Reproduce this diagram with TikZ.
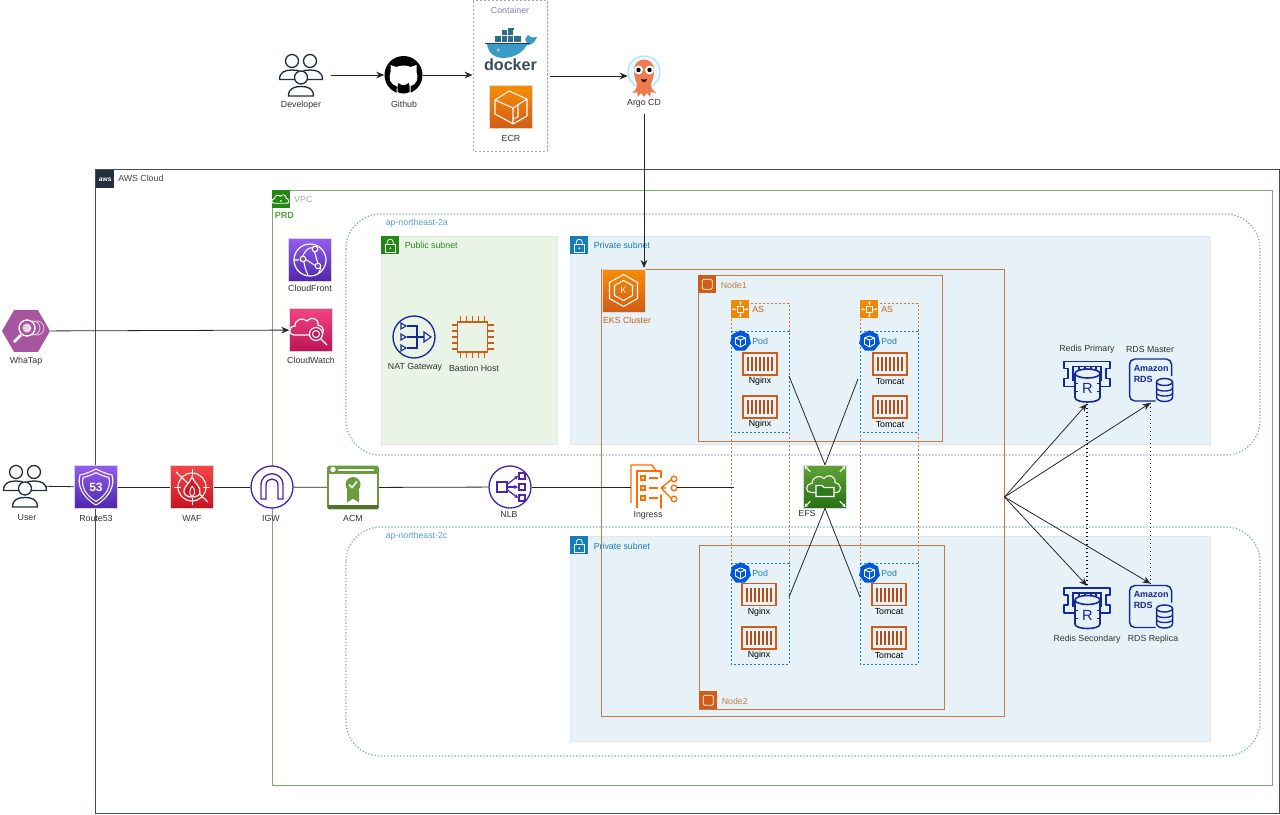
\documentclass[tikz,border=0pt]{standalone}
\usepackage{fontspec}
\setmainfont{Liberation Sans}
\usetikzlibrary{arrows.meta, shapes.geometric, positioning}
\definecolor{awsdark}{HTML}{232F3E}
\definecolor{vpcgreen}{HTML}{248814}
\definecolor{subnetblue}{HTML}{147EBA}
\definecolor{azblue}{HTML}{5A9FD0}
\definecolor{azdots}{HTML}{85A9C4}
\definecolor{awsorange}{HTML}{D05C17}
\definecolor{awsamber}{HTML}{F78E04}
\definecolor{boxorange}{HTML}{C47B46}
\definecolor{netpurple}{HTML}{4D27AA}
\definecolor{lightpurple}{HTML}{945DF2}
\definecolor{roseup}{HTML}{F34482}
\definecolor{rosedown}{HTML}{BC1356}
\definecolor{redup}{HTML}{F54749}
\definecolor{reddown}{HTML}{C7131F}
\definecolor{greenup}{HTML}{60A337}
\definecolor{greendown}{HTML}{277116}
\definecolor{acmgreen}{HTML}{6A9B3C}
\definecolor{whatapfill}{HTML}{A6569F}
\definecolor{navy}{HTML}{152A99}
\definecolor{pubfill}{HTML}{E9F3E6}
\definecolor{prifill}{HTML}{E6F2F8}
\definecolor{argoskin}{HTML}{EE7B4E}
\definecolor{dockerblue}{HTML}{3A9CC6}
\definecolor{dockerteal}{HTML}{2C6E86}
\definecolor{dockerword}{HTML}{394D54}

\newcommand{\cloudline}{(-14,6) .. controls (-20,6) and (-20,-3) .. (-13,-3) .. controls (-13,-10) and (-5,-12) .. (-1,-8) .. controls (2,-13) and (11,-11) .. (10,-4) .. controls (16,-4) and (18,6) .. (11,6) -- cycle}

\tikzset{
    personicon/.pic={
        \draw[awsdark, line width=1pt, fill=white] (-12.5,18.5) .. controls (-12.5,11) and (-7,9) .. (0,9) .. controls (7,9) and (12.5,11) .. (12.5,18.5) -- cycle;
        \draw[awsdark, line width=1pt, fill=white] (0,0) circle (6.5);
    },
    usersicon/.pic={
        \pic at (-9,-14) {personicon};
        \pic at (9,-14) {personicon};
        \pic at (0,2.5) {personicon};
    },
    octoicon/.pic={
        \fill[white] (-7,19) -- (-7,11) .. controls (-14,9) and (-15,3) .. (-13,-3) -- (-13,-10) -- (-7,-8) .. controls (-3,-10) and (3,-10) .. (7,-8) -- (13,-10) -- (13,-3) .. controls (15,3) and (14,9) .. (7,11) -- (7,19) -- cycle;
        \fill[black] (-5,8) .. controls (-2,11) and (2,11) .. (5,8) -- (6,11) -- (6,17) .. controls (2,19) and (-2,19) .. (-6,17) -- (-6,11) -- cycle;
        \draw[black, line width=1pt] (-14,8) .. controls (-11,9) and (-10,13) .. (-6,13);
    },
    whaleicon/.pic={
        \fill[dockerteal] (-15,-15) rectangle (11,-8);
        \fill[dockerteal] (-8,-20) rectangle (4,-15);
        \fill[dockerteal] (-2,-22) rectangle (4,-20);
        \foreach \cx in {-9,-3,3}
            \draw[white, line width=.2pt] (\cx,-20) -- (\cx,-8);
        \draw[white, line width=.2pt] (-15,-15) -- (11,-15);
        \fill[dockerblue] (-23,-6) -- (18,-6) .. controls (13,-11) and (16,-13) .. (18,-15) .. controls (20,-13) and (21,-12) .. (27,-13) .. controls (25,-7) and (21,-5) .. (17,-5) .. controls (11,5) and (1,8) .. (-8,8) .. controls (-15,8) and (-22,3) .. (-23,-6) -- cycle;
        \draw[awsdark!80!dockerteal, line width=.7pt] (-25,-7) -- (20,-7);
        \fill[white] (-12,0) circle (1.5);
        \fill[awsdark] (-12,0) circle (.6);
    },
    cubeicon/.pic={
        \draw[white, line width=.8pt, line join=round] (-16,-7) -- (-2,-16) -- (16,-8) -- (16,9) -- (2,17) -- (-3,14) -- (-16,7) -- cycle;
        \draw[white, line width=.8pt, line join=round] (-16,-7) -- (2,1) -- (16,-8) (2,1) -- (2,17) (7,-3) -- (7,10) -- (2,12);
    },
    argoicon/.pic={
        \draw[cyan!35!white, line width=.9pt, fill=white] (0,-4) circle (16);
        \fill[cyan!8] (0,-4) circle (15);
        \fill[argoskin] (-10,-6) .. controls (-10,-20) and (10,-20) .. (10,-6) .. controls (10,3) and (7,6) .. (7,9) .. controls (7,13) and (10,15) .. (12,17) -- (7,16) -- (6,21) -- (3,17) -- (0,21) -- (-3,17) -- (-6,21) -- (-7,16) -- (-12,17) .. controls (-10,15) and (-7,13) .. (-7,9) .. controls (-7,6) and (-10,3) .. (-10,-6) -- cycle;
        \foreach \ex in {-5.5,5.5}{
            \fill[white] (\ex,-6) circle (4.5);
            \fill[black] (\ex,-6) circle (2.2);
        }
        \fill[black] (-3,3) .. controls (-1,4) and (1,4) .. (3,3) .. controls (2,7) and (-2,7) .. (-3,3) -- cycle;
    },
    frontlogo/.pic={
        \draw[white, line width=.9pt] (0,0) circle (16);
        \draw[white, line width=.8pt] (-8,-1) .. controls (-6,-9) and (-1,-14) .. (4,-12) (-6,2) .. controls (-5,9) and (-3,13) .. (-2,15) (4,-10) -- (8,4) (-5,-1) -- (6,6) (-16,0) -- (-11,0) (11,8) -- (8,14);
        \foreach \dx/\dy in {-7/-1,5/-11,8/6}
            \draw[white, line width=.8pt, fill=netpurple!80] (\dx,\dy) circle (2.8);
    },
    watchlogo/.pic={
        \draw[white, line width=.9pt] [shift={(-3,-1)}] \cloudline;
        \draw[white, line width=.9pt, fill=rosedown!85!roseup] (5,4) circle (6.5);
        \draw[white, line width=.8pt] (5,4) circle (3.5) (10,9) -- (16,15);
    },
    lenslogo/.pic={
        \foreach \rx in {11,7}
            \draw[white!70!whatapfill, line width=.6pt] (\rx,-3) circle (7);
        \draw[white, fill=whatapfill, line width=1pt] (1,-3) circle (8);
        \fill[white!75!whatapfill] (1,-3) circle (4.5);
        \draw[white, line width=2pt] (-5,4) -- (-12,11);
    },
    shieldlogo/.pic={
        \foreach \sc in {1,.8}
            \draw[white, line width=.8pt, scale=\sc] (-16,-12) .. controls (-11,-13) and (-6,-15) .. (0,-18) .. controls (6,-15) and (11,-13) .. (16,-12) .. controls (19,-2) and (14,10) .. (0,18) .. controls (-14,10) and (-19,-2) .. (-16,-12) -- cycle;
        \node[text=white, inner sep=0pt, font=\fontsize{9}{9}\selectfont\bfseries] (rtnum) at (0,0) {53};
    },
    flamelogo/.pic={
        \draw[white, line width=.8pt] (0,0) circle (14);
        \draw[white, line width=.8pt] (-16,-15) -- (16,15);
        \draw[white, line width=.9pt, fill=reddown!85!redup] (0,-10) .. controls (2,-4) and (9,-1) .. (8,6) .. controls (7,11) and (-7,12) .. (-8,5) .. controls (-9,0) and (-4,-1) .. (0,-10) -- cycle;
        \draw[white, line width=.7pt] (0,-1) .. controls (4,3) and (3,8) .. (0,9) .. controls (-3,8) and (-3,4) .. (0,-1);
        \foreach \a in {0,90,180,270}
            \draw[white, line width=.7pt] (\a:11) -- (\a:18);
    },
    gatelogo/.pic={
        \draw[netpurple, line width=1pt] (-11,12) -- (-11,-2) .. controls (-11,-17) and (11,-17) .. (11,-2) -- (11,12) -- (6,12) -- (6,-2) .. controls (6,-10) and (-6,-10) .. (-6,-2) -- (-6,12) -- cycle;
    },
    certlogo/.pic={
        \fill[acmgreen] (-25,-21) rectangle (25,-14);
        \fill[acmgreen!75!black] (-25,17) rectangle (25,21);
        \fill[white] (-20,-18) circle (2.7);
        \fill[white] (-15,-19) rectangle (21,-16.5);
        \fill[acmgreen] (-6,2) -- (-6,15) -- (0,11) -- (6,15) -- (6,2) -- cycle;
        \fill[acmgreen] (0,-3) circle (7.5);
        \draw[white, line width=1.1pt] (-4,-3) -- (-1,0) -- (4,-6);
    },
    balancelogo/.pic={
        \draw[netpurple, line width=.9pt] (-13,-5) rectangle (-3,5);
        \foreach \by in {-11,0,11}{
            \draw[netpurple, line width=.9pt] (9,\by-3) rectangle (15,\by+3);
            \draw[netpurple, line width=.9pt, -{Stealth[length=3pt,width=3pt]}] (-2,\by*.3) -- (8,\by);
        }
    },
    gatherlogo/.pic={
        \foreach \by in {-11,0,11}{
            \draw[navy, line width=.8pt] (-13,\by-3) -- (-13,\by+3) -- (-8,\by) -- cycle;
        }
        \draw[navy, line width=.9pt] (-7,-11) -- (3,-11) -- (3,11) -- (-7,11) (-7,0) -- (10,0);
        \draw[navy, line width=.8pt] (10,-5) -- (10,5) -- (17,0) -- cycle;
    },
    chiplogo/.pic={
        \draw[awsorange, line width=1.2pt] (-15,-15) rectangle (15,15);
        \foreach \p in {-12,-6,0,6,12}{
            \draw[awsorange, line width=1pt] (\p,-21) -- (\p,-15) (\p,15) -- (\p,21) (-21,\p) -- (-15,\p) (15,\p) -- (21,\p);
        }
    },
    hexklogo/.pic={
        \draw[white, line width=.8pt, line join=round] (0,-16) -- (14,-8) -- (14,8) -- (0,16) -- (-14,8) -- (-14,-8) -- cycle;
        \draw[white, line width=.8pt, line join=round] (0,-10) -- (9,-5) -- (9,5) -- (0,10) -- (-9,5) -- (-9,-5) -- cycle;
        \node[text=white, inner sep=0pt, font=\fontsize{7}{7}\selectfont] (ekschar) at (0,0) {K};
    },
    listlogo/.pic={
        \draw[orange!85!red, line width=1.1pt, line join=round] (-23,16) -- (-23,-22) -- (-2,-22) -- (2,-16);
        \draw[orange!85!red, line width=1.1pt, line join=round, fill=white] (-17,21) -- (-17,-16) -- (7,-16) -- (7,-9) (7,8) -- (7,21) -- cycle;
        \foreach \ly in {-9,1,11}{
            \draw[orange!85!red, line width=.9pt] (-13,\ly-2) rectangle (-9,\ly+2);
            \draw[orange!85!red, line width=1pt] (-5,\ly) -- (4,\ly);
        }
        \draw[orange!85!red, line width=1pt] (7,1) -- (12,1) (7,1) -- (18,-8) (7,1) -- (18,12);
        \foreach \ly in {-8,1,12}
            \draw[orange!85!red, line width=1pt, fill=white] (20,\ly) circle (2.8);
    },
    folderlogo/.pic={
        \draw[white, line width=.8pt] \cloudline;
        \draw[white, line width=.8pt, fill=greendown!85!greenup] (-9,-1) -- (-3,-1) -- (-1,1) -- (9,1) -- (9,10) -- (-9,10) -- cycle;
        \foreach \a in {45,135,225,315}
            \draw[white, line width=.8pt, -{Stealth[length=2.5pt,width=3pt]}] (\a:21) -- (\a:29);
    },
    cloudmark/.pic={
        \draw[white, line width=.7pt] [shift={(-.5,2)}] \cloudline;
        \fill[white] (-.5,3) circle (2);
    },
    lockmark/.pic={
        \draw[white, line width=.6pt] (-5,-1) rectangle (5,7);
        \draw[white, line width=.6pt] (-3,-1) -- (-3,-3) .. controls (-3,-7) and (3,-7) .. (3,-3) -- (3,-1);
        \fill[white] (0,3) circle (1);
    },
    servermark/.pic={
        \draw[white, line width=.6pt, rounded corners=1pt] (-5,-5) rectangle (5,5);
    },
    scalemark/.pic={
        \draw[white, line width=.6pt] (-3,-3) rectangle (3,3);
        \foreach \a in {0,90,180,270}
            \draw[white, line width=.5pt, -{Stealth[length=1.5pt,width=2pt]}] (\a:4) -- (\a:8);
    },
    boxmark/.pic={
        \draw[white, line width=.7pt, line join=round] (-5,-3) -- (0,-5) -- (5,-3) -- (5,3) -- (0,6) -- (-5,3) -- cycle;
        \draw[white, line width=.7pt] (-5,-3) -- (0,-1) -- (5,-3) (0,-1) -- (0,6);
    },
    crateicon/.pic={
        \foreach \bx in {-12,-8,-4,0,4,8,12}
            \draw[awsorange!85!black, line width=1pt] (\bx,-7) -- (\bx,7);
    },
    redisicon/.pic={
        \draw[navy, line width=1.1pt, line join=round] (-12,5) -- (-23,5) -- (-23,-3) -- (-19,-3) -- (-19,-13) -- (-23,-13) -- (-23,-20) -- (23,-20) -- (23,-13) -- (19,-13) -- (19,-3) -- (23,-3) -- (23,5) -- (12,5);
        \draw[navy, line width=.9pt] (-14,-1) -- (-14,-15) -- (14,-15) -- (14,-1);
        \foreach \tx in {-8,-2,4,9}
            \draw[navy, line width=.9pt] (\tx,-15) -- (\tx,-9);
        \draw[navy, line width=1.2pt, fill=prifill] (-12,-8) -- (-12,16) .. controls (-12,22) and (13,22) .. (13,16) -- (13,-8);
        \draw[navy, line width=1.2pt, fill=prifill] (.5,-8) ellipse (12.5 and 4.5);
        \draw[navy, line width=.7pt] (-12,2) -- (-9,2) (-12,10) -- (-9,10) (10,2) -- (13,2) (10,10) -- (13,10);
        \node[text=navy, inner sep=0pt, font=\fontsize{11}{11}\selectfont] (redischar) at (.5,7) {R};
    },
    rdsicon/.pic={
        \draw[navy, line width=1.1pt, rounded corners=4pt] (21,-4) -- (21,-21) -- (-21,-21) -- (-21,21) -- (5,21);
        \node[text=navy, inner sep=0pt, anchor=west, font=\fontsize{6.7}{7}\selectfont\bfseries] (rdsworda) at (-17,-12) {Amazon};
        \node[text=navy, inner sep=0pt, anchor=west, font=\fontsize{6.7}{7}\selectfont\bfseries] (rdswordb) at (-17,-1) {RDS};
        \draw[navy, line width=1.1pt, fill=prifill] (6,2) -- (6,17) .. controls (6,23) and (22,23) .. (22,17) -- (22,2);
        \draw[navy, line width=1.1pt, fill=prifill] (14,2) ellipse (8 and 3.5);
        \draw[navy, line width=1pt] (6,8) .. controls (6,12) and (22,12) .. (22,8) (6,13) .. controls (6,17) and (22,17) .. (22,13);
    }
}

\begin{document}
\begin{tikzpicture}[x=.75pt, y=-.75pt, every node/.style={font=\fontsize{6.6}{8}\selectfont}]
    \tikzstyle{lbl} = [inner sep=0pt, text=black!80]
    \tikzstyle{title} = [inner sep=0pt, anchor=west]
    \tikzstyle{tag} = [rectangle, minimum size=13.5pt, inner sep=0pt, anchor=north west]
    \tikzstyle{icon} = [rectangle, minimum size=32.25pt, inner sep=0pt, draw=white!85!black, line width=.4pt]
    \tikzstyle{ringicon} = [circle, minimum size=31.5pt, inner sep=0pt, fill=white, line width=1pt]
    \tikzstyle{spot} = [rectangle, minimum size=30pt, inner sep=0pt]
    \tikzstyle{crate} = [rectangle, minimum width=25.5pt, minimum height=16.5pt, inner sep=0pt, draw=awsorange, line width=1pt]
    \tikzstyle{flow} = [draw=black!85, line width=.6pt]
    \tikzstyle{tip} = [flow, -{Stealth[length=6pt,width=5pt]}]
    \tikzstyle{sync} = [black, line width=1pt, dash pattern=on 1pt off 2pt]
    \tikzstyle{group} = [line width=.6pt]
    \tikzstyle{az} = [azdots, line width=.9pt, dash pattern=on 1pt off 1.4pt, rounded corners=26pt]
    \tikzstyle{finedash} = [line width=.5pt, dash pattern=on 1.6pt off 1.4pt]
    \useasboundingbox (0,0) rectangle (1280,814);

    % groups
    \draw[awsdark!85, group] (95,169.5) rectangle (1279.5,813);
    \draw[vpcgreen!55!white!90!black, group] (272,190) rectangle (1272,785);
    \draw[az] (346,214) rectangle (1260,455);
    \draw[az] (346,527) rectangle (1260,756);
    \draw[fill=pubfill, draw=black!10] (381,236) rectangle (557,444);
    \draw[fill=prifill, draw=black!10] (570,236) rectangle (1210,444);
    \draw[fill=prifill, draw=black!10] (570,536) rectangle (1210,741);
    \draw[boxorange, group] (601,269) rectangle (1004,716);
    \draw[boxorange, group] (698,275) rectangle (942,441);
    \draw[boxorange, group] (699,545) rectangle (944,709);
    \foreach \x in {731,860}{
        \draw[awsorange!85, finedash] (\x,303) rectangle (\x+58,664);
        \foreach \y in {331,563}
            \draw[subnetblue, finedash] (\x,\y) rectangle (\x+58,\y+101);
    }
    \draw[black!50!blue!35!white, finedash] (473,.5) rectangle (547,151);

    % corner tags
    \node[tag, fill=awsdark] (awstag) at (96,170) {};
    \node[inner sep=0pt, text=white, font=\fontsize{5}{5}\selectfont\bfseries] (awsword) at (awstag) {aws};
    \node[title, text=black!75] (awstitle) at (118,178.5) {AWS Cloud};
    \node[tag, fill=vpcgreen] (vpctag) at (272,190) {};
    \pic[scale=.5] at (vpctag) {cloudmark};
    \node[title, text=black!35] (vpctitle) at (294,199) {VPC};
    \node[title, text=vpcgreen!80!white, font=\fontsize{6.75}{8}\selectfont\bfseries] (prdtitle) at (274.5,215.5) {PRD};
    \node[title, text=azblue] (azatitle) at (385.5,223.5) {ap-northeast-2a};
    \node[title, text=azblue] (azctitle) at (385.5,536) {ap-northeast-2c};
    \node[tag, fill=vpcgreen] (pubtag) at (381,236) {};
    \pic at (pubtag) {lockmark};
    \node[title, text=vpcgreen] (pubtitle) at (404.5,245.5) {Public subnet};
    \node[tag, fill=subnetblue] (priatag) at (570,236) {};
    \pic at (priatag) {lockmark};
    \node[title, text=subnetblue] (priatitle) at (593.5,245.5) {Private subnet};
    \node[tag, fill=subnetblue] (pribtag) at (570,536) {};
    \pic at (pribtag) {lockmark};
    \node[title, text=subnetblue] (pribtitle) at (593.5,546) {Private subnet};
    \node[tag, fill=awsorange] (nodeatag) at (698,275) {};
    \pic at (nodeatag) {servermark};
    \node[title, text=boxorange] (nodeatitle) at (720.5,285) {Node1};
    \node[tag, fill=awsorange] (nodebtag) at (699,691) {};
    \pic at (nodebtag) {servermark};
    \node[title, text=boxorange] (nodebtitle) at (721.5,701) {Node2};
    \foreach \x/\n in {731/asa,860/asb}{
        \node[tag, fill=awsamber!85!awsorange] (\n tag) at (\x,300) {};
        \pic at (\n tag) {scalemark};
        \node[title, text=awsorange] (\n title) at (\x+21,309) {AS};
    }
    \foreach \x/\y/\n in {740.5/341/poda,869.5/341/podb,740.5/573/podc,869.5/573/podd}{
        \node[regular polygon, regular polygon sides=7, minimum size=16pt, inner sep=0pt, fill=blue!60!cyan!85!black] (\n tag) at (\x,\y) {};
        \pic at (\n tag) {boxmark};
        \node[title, text=subnetblue] (\n title) at (\x+11.5,\y) {Pod};
    }

    % top row
    \node[spot, minimum width=45pt] (developer) at (301,75) {};
    \pic at (developer) {usersicon};
    \node[lbl] (developerlbl) at (301,105) {Developer};
    \node[circle, minimum size=28.5pt, inner sep=0pt, fill=black] (github) at (403.5,75) {};
    \pic at (github) {octoicon};
    \node[lbl] (githublbl) at (404,104) {Github};
    \node[title, text=black!50!blue!50!white, anchor=center] (containertitle) at (510,10) {Container};
    \node[spot, minimum size=1pt] (docker) at (510,50) {};
    \pic at (docker) {whaleicon};
    \node[inner sep=0pt, text=dockerword, font=\fontsize{12.1}{13}\selectfont\bfseries] (dockertext) at (510.5,65) {docker};
    \node[icon, top color=awsamber, bottom color=awsorange] (ecr) at (511,107) {};
    \pic at (ecr) {cubeicon};
    \node[lbl] (ecrlbl) at (511,138) {ECR};
    \node[spot, minimum width=24pt] (argocd) at (644,76) {};
    \pic at (argocd) {argoicon};
    \node[lbl] (argocdlbl) at (644,103) {Argo CD};
    \coordinate (containerin) at (472.5,75);
    \coordinate (containerout) at (550,76);
    \coordinate (argoout) at (644,114);
    \coordinate (clustertop) at (644,268);

    % left side
    \node[regular polygon, regular polygon sides=6, minimum size=36pt, inner sep=0pt, fill=whatapfill] (whatap) at (26,331) {};
    \pic at (whatap) {lenslogo};
    \node[lbl] (whataplbl) at (26,361) {WhaTap};
    \node[icon, top color=lightpurple, bottom color=netpurple] (cloudfront) at (310,260) {};
    \pic at (cloudfront) {frontlogo};
    \node[lbl] (cloudfrontlbl) at (310,288) {CloudFront};
    \node[icon, top color=roseup, bottom color=rosedown] (cloudwatch) at (311,330) {};
    \pic at (cloudwatch) {watchlogo};
    \node[lbl] (cloudwatchlbl) at (311,360) {CloudWatch};

    % public subnet
    \node[ringicon, draw=navy, fill=pubfill] (natgw) at (414,337) {};
    \pic at (natgw) {gatherlogo};
    \node[lbl] (natgwlbl) at (415,367) {NAT Gateway};
    \node[spot, minimum size=32pt] (bastion) at (472.5,337) {};
    \pic at (bastion) {chiplogo};
    \node[lbl] (bastionlbl) at (474,368) {Bastion Host};

    % entry row
    \node[spot, minimum width=30pt, minimum height=32pt] (user) at (25,486) {};
    \pic at (user) {usersicon};
    \node[lbl] (userlbl) at (27,518) {User};
    \node[icon, top color=lightpurple, bottom color=netpurple] (route53) at (96,487) {};
    \pic at (route53) {shieldlogo};
    \node[lbl] (route53lbl) at (96,518) {Route53};
    \node[icon, top color=redup, bottom color=reddown] (waf) at (192,487) {};
    \pic at (waf) {flamelogo};
    \node[lbl] (waflbl) at (192,518) {WAF};
    \node[ringicon, draw=netpurple] (igw) at (272,487) {};
    \pic at (igw) {gatelogo};
    \node[lbl] (igwlbl) at (271,518) {IGW};
    \node[rectangle, minimum width=37.5pt, minimum height=31.5pt, inner sep=0pt, fill=white, draw=acmgreen, line width=1.4pt, rounded corners=1pt] (acm) at (353,487.5) {};
    \pic at (acm) {certlogo};
    \node[lbl] (acmlbl) at (353,518) {ACM};
    \node[ringicon, draw=netpurple] (nlb) at (510,487) {};
    \pic at (nlb) {balancelogo};
    \node[lbl] (nlblbl) at (509,514) {NLB};
    \node[spot, minimum width=34.5pt, minimum height=33pt] (ingress) at (654,487) {};
    \pic at (ingress) {listlogo};
    \node[lbl] (ingresslbl) at (648,515) {Ingress};
    \coordinate (asedge) at (733.5,487);

    % cluster
    \node[icon, top color=awsamber, bottom color=awsorange] (eks) at (623.5,290.5) {};
    \pic at (eks) {hexklogo};
    \node[title, text=awsorange, anchor=center] (ekslbl) at (627,320) {EKS Cluster};
    \node[icon, top color=greenup, bottom color=greendown] (efs) at (825,486.5) {};
    \pic at (efs) {folderlogo};
    \node[lbl] (efslbl) at (807,513) {EFS};
    \foreach \x/\y/\n/\t in {760/364/nga/Nginx, 760/407/ngb/Nginx, 890/364/tca/Tomcat, 890/407/tcb/Tomcat, 759/594.5/ngc/Nginx, 759/638/ngd/Nginx, 889/594.5/tcc/Tomcat, 889/638/tcd/Tomcat}{
        \node[crate] (\n) at (\x,\y) {};
        \pic at (\n) {crateicon};
        \node[lbl, text=black] (\n lbl) at (\x,\y+17.5) {\t};
    }
    \coordinate (podaedge) at (789,376);
    \coordinate (podbedge) at (858,379);
    \coordinate (podcedge) at (789,597);
    \coordinate (poddedge) at (860,597);
    \coordinate (clusteredge) at (1004.5,497);

    % data stores
    \node[spot, minimum width=35pt, minimum height=33pt] (redisa) at (1087,381.5) {};
    \pic at (redisa) {redisicon};
    \node[lbl] (redisalbl) at (1087,349) {Redis Primary};
    \node[spot, minimum width=32pt, minimum height=34pt] (rdsa) at (1150.5,380) {};
    \pic at (rdsa) {rdsicon};
    \node[lbl] (rdsalbl) at (1150,349) {RDS Master};
    \node[spot, minimum width=35pt, minimum height=33pt] (redisb) at (1087,608) {};
    \pic at (redisb) {redisicon};
    \node[lbl] (redisblbl) at (1087,639) {Redis Secondary};
    \node[spot, minimum width=32pt, minimum height=34pt] (rdsb) at (1150.5,606.5) {};
    \pic at (rdsb) {rdsicon};
    \node[lbl] (rdsblbl) at (1153,639) {RDS Replica};

    % connectors
    \draw[tip] (developer) -- (github);
    \draw[tip] (github) -- (containerin);
    \draw[tip] (containerout) -- (argocd);
    \draw[tip] (argoout) -- (clustertop);
    \draw[tip] (whatap) -- (cloudwatch);
    \draw[flow] (user) -- (route53);
    \draw[flow] (route53) -- (waf);
    \draw[flow] (waf) -- (igw);
    \draw[flow] (igw) -- (acm);
    \draw[flow] (acm) -- (nlb);
    \draw[flow] (nlb) -- (ingress);
    \draw[flow] (ingress) -- (asedge);
    \draw[flow] (podaedge) -- (efs.north);
    \draw[flow] (podbedge) -- (efs.north);
    \draw[flow] (podcedge) -- (efs.south);
    \draw[flow] (poddedge) -- (efs.south);
    \draw[tip] (clusteredge) -- (redisa.south);
    \draw[tip] (clusteredge) -- (rdsa.south);
    \draw[tip] (clusteredge) -- (redisb.north);
    \draw[tip] (clusteredge) -- (rdsb.north);
    \draw[sync] (redisa.south) -- (redisb.north);
    \draw[sync] (rdsa.south) -- (rdsb.north);
\end{tikzpicture}
\end{document}
